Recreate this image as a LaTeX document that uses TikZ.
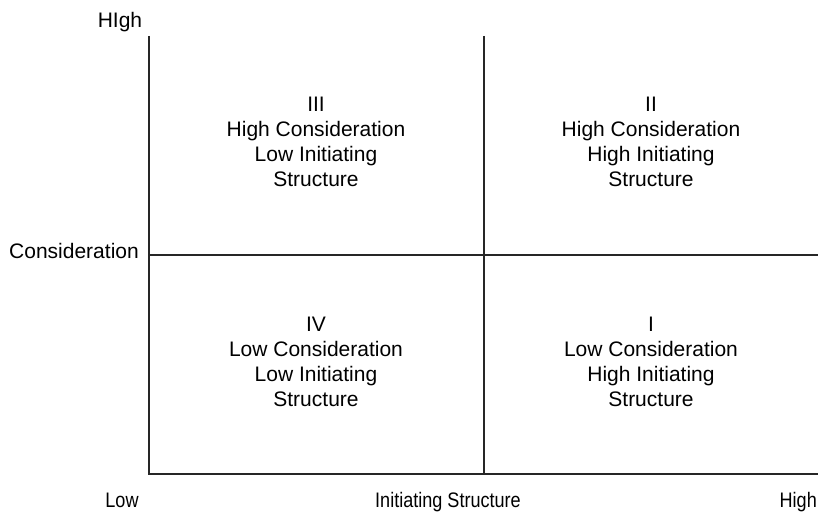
\documentclass[tikz,border=0pt]{standalone}
\usepackage{fontspec}
\setmainfont{Liberation Sans}
\newfontfamily\narrowfont[FakeStretch=0.86]{Liberation Sans}
\usepackage{tikz}
\usetikzlibrary{positioning,calc}

\begin{document}
\begin{tikzpicture}[
  x=1pt, y=-1pt,
  axis/.style={line width=1.3pt, black!85},
  quad/.style={align=center, anchor=north, inner sep=0pt,
    font=\fontsize{21}{24.8}\selectfont},
  lbl/.style={anchor=base, inner sep=0pt, font=\fontsize{21}{24.8}\selectfont},
  narrowlbl/.style={anchor=base, inner sep=0pt,
    font=\narrowfont\fontsize{21}{24.8}\selectfont}
]
  \useasboundingbox (0,0) rectangle (818,511);

  % corners of the grid
  \coordinate (O) at (149,474);
  \coordinate (T) at (149,36);
  \coordinate (R) at (818,474);
  \coordinate (MT) at (484,36);
  \coordinate (MB) at (484,474);
  \coordinate (ML) at (149,255);
  \coordinate (MR) at (818,255);

  \draw[axis] (T) -- (O) -- (R);
  \draw[axis] (MT) -- (MB);
  \draw[axis] (ML) -- (MR);

  % axis labels
  \node[lbl] (high-y) at (120,28) {HIgh};
  \node[lbl, anchor=base east] (cons) at (139,258) {Consideration};
  \node[narrowlbl] (low-x) at (122,507) {Low};
  \node[narrowlbl] (init) at (448,507) {Initiating Structure};
  \node[narrowlbl, anchor=base east] (high-x) at (817,507) {High};

  % quadrants
  \node[quad] (q3) at (316,97) {III\\High Consideration\\Low Initiating\\Structure};
  \node[quad] (q2) at (651,97) {II\\High Consideration\\High Initiating\\Structure};
  \node[quad] (q4) at (316,317) {IV\\Low Consideration\\Low Initiating\\Structure};
  \node[quad] (q1) at (651,317) {I\\Low Consideration\\High Initiating\\Structure};
\end{tikzpicture}
\end{document}
